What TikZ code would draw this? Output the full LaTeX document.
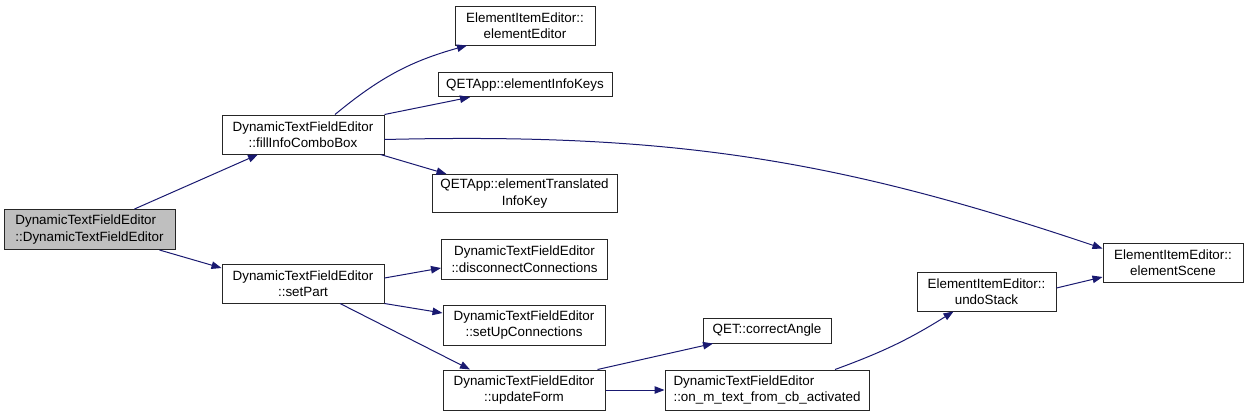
\documentclass[tikz,border=0pt]{standalone}
\usepackage{fontspec}
\setmainfont{Liberation Sans}
\usetikzlibrary{arrows.meta}
\definecolor{edgecol}{HTML}{191970}
\definecolor{rootfill}{HTML}{BFBFBF}
\tikzset{
  fn/.style={draw=black!85, line width=1pt, fill=white, inner sep=0pt,
    font=\fontsize{13.4}{16.5}\selectfont, align=center},
  fnleft/.style={fn, align=left},
  edge/.style={draw=edgecol, line width=1pt,
    -{Triangle[length=10pt,width=7.5pt]}, shorten >=0pt}
}
\begin{document}
\begin{tikzpicture}[x=1pt,y=-1pt]
\useasboundingbox (0,0) rectangle (1248,416);
\node[fnleft, fill=rootfill, minimum width=171pt, minimum height=40pt] (root) at (89.5,229.5)
  {DynamicTextFieldEditor\\::DynamicTextFieldEditor};
\node[fn, minimum width=162pt, minimum height=39pt] (fill) at (303,134.5)
  {DynamicTextFieldEditor\\::fillInfoComboBox};
\node[fn, minimum width=162pt, minimum height=39pt] (setpart) at (303,283.5)
  {DynamicTextFieldEditor\\::setPart};
\node[fn, minimum width=140pt, minimum height=39pt] (ee) at (525,25.5)
  {ElementItemEditor::\\elementEditor};
\node[fn, minimum width=174pt, minimum height=24pt] (eik) at (525,84.7)
  {QETApp::elementInfoKeys};
\node[fn, minimum width=185pt, minimum height=38pt] (eti) at (524.5,193.5)
  {QETApp::elementTranslated\\InfoKey};
\node[fn, minimum width=166pt, minimum height=40pt] (disc) at (524.5,259)
  {DynamicTextFieldEditor\\::disconnectConnections};
\node[fn, minimum width=162pt, minimum height=40pt] (setup) at (524,325)
  {DynamicTextFieldEditor\\::setUpConnections};
\node[fn, minimum width=162pt, minimum height=40pt] (upd) at (524,390)
  {DynamicTextFieldEditor\\::updateForm};
\node[fn, minimum width=128pt, minimum height=25pt] (corr) at (767,330.5)
  {QET::correctAngle};
\node[fnleft, minimum width=204pt, minimum height=40pt] (onm) at (767,390)
  {DynamicTextFieldEditor\\::on\_m\_text\_from\_cb\_activated};
\node[fn, minimum width=139pt, minimum height=39pt] (undo) at (986.5,291.5)
  {ElementItemEditor::\\undoStack};
\node[fn, minimum width=140pt, minimum height=39pt] (scene) at (1173,262.5)
  {ElementItemEditor::\\elementScene};

\draw[edge] ([xshift=45pt]root.north) -- ([xshift=-45pt]fill.south);
\draw[edge] ([xshift=70pt]root.south) -- ([yshift=15.5pt]setpart.west);
\draw[edge] ([xshift=32pt]fill.north) to[bend left=12] ([xshift=-58pt]ee.south);
\draw[edge] (fill.north east) -- ([xshift=-55pt]eik.south);
\draw[edge] ([xshift=-4pt]fill.south east) -- ([xshift=-78pt]eti.north);
\draw[edge] ([yshift=-5pt]fill.east) to[bend left=10] ([yshift=14pt]scene.west);
\draw[edge] ([yshift=5.5pt]setpart.east) -- ([yshift=-9pt]disc.west);
\draw[edge] (setpart.south east) -- ([yshift=12pt]setup.west);
\draw[edge] ([xshift=37pt]setpart.south) -- ([xshift=-54pt]upd.north);
\draw[edge] ([xshift=-8pt]upd.north east) -- ([xshift=-54pt]corr.south);
\draw[edge] (upd.east) -- (onm.west);
\draw[edge] ([xshift=68pt]onm.north) to[bend right=6] ([xshift=-33pt]undo.south);
\draw[edge] ([yshift=3.5pt]undo.east) -- ([yshift=-14.5pt]scene.west);
\end{tikzpicture}
\end{document}
